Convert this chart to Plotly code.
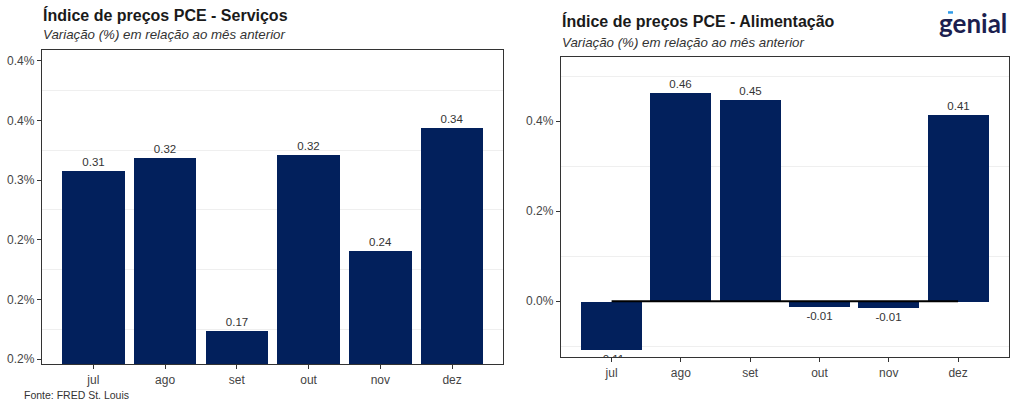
import plotly.graph_objects as go

# ---- data ----
months = ["jul", "ago", "set", "out", "nov", "dez"]
servicos = [0.308, 0.319, 0.174, 0.321, 0.241, 0.344]
alimentacao = [-0.107, 0.464, 0.448, -0.012, -0.014, 0.415]
zero_line = [0, 0, 0, 0, 0, 0]

left_tickvals = [0.15, 0.20, 0.25, 0.30, 0.35, 0.40]
left_ticktext = ["0.2%", "0.2%", "0.2%", "0.3%", "0.4%", "0.4%"]
right_tickvals = [0.0, 0.2, 0.4]
right_ticktext = ["0.0%", "0.2%", "0.4%"]

title_left = "Índice de preços PCE - Serviços"
title_right = "Índice de preços PCE - Alimentação"
subtitle = "Variação (%) em relação ao mês anterior"
source = "Fonte: FRED St. Louis"

NAVY = "#02205c"
FONT = "Liberation Sans, Arial, sans-serif"
W, H = 1024, 410


def px(x):
    return x / W


def py(y):
    return 1 - y / H


fig = go.Figure()

fig.add_trace(go.Bar(
    x=months, y=servicos, xaxis="x", yaxis="y",
    marker=dict(color=NAVY, line=dict(width=0)),
    width=0.87,
    text=[f"{v:.2f}" for v in servicos],
    textposition="outside", cliponaxis=True,
    textfont=dict(size=11.5, color="#333333", family=FONT),
    showlegend=False,
))

fig.add_trace(go.Bar(
    x=months, y=alimentacao, xaxis="x2", yaxis="y2",
    marker=dict(color=NAVY, line=dict(width=0)),
    width=0.88,
    text=[f"{v:.2f}" for v in alimentacao],
    textposition="outside", cliponaxis=True,
    textfont=dict(size=11.5, color="#333333", family=FONT),
    showlegend=False,
))

fig.add_trace(go.Scatter(
    x=months, y=zero_line, xaxis="x2", yaxis="y2",
    mode="lines", line=dict(color="black", width=2.2),
    showlegend=False, hoverinfo="skip",
))

axis_common = dict(
    showline=True, linecolor="#333333", linewidth=1.3, mirror=True,
    ticks="outside", ticklen=4, tickwidth=1.3, tickcolor="#333333",
    tickfont=dict(size=12, color="#444444", family=FONT),
    zeroline=False,
)

fig.update_layout(
    width=W, height=H,
    margin=dict(l=0, r=0, t=0, b=0),
    paper_bgcolor="white", plot_bgcolor="white",
    font=dict(family=FONT),
    bargap=0,
    xaxis=dict(domain=[px(42), px(503)], anchor="y", type="category",
               range=[-0.715, 5.71], showgrid=False, **axis_common),
    yaxis=dict(domain=[py(366), py(50)], anchor="x",
               range=[0.1458, 0.4092], tickmode="array",
               tickvals=left_tickvals, ticktext=left_ticktext,
               showgrid=False,
               minor=dict(tick0=0.025, dtick=0.05, showgrid=True,
                          gridcolor="#efefef", gridwidth=1, ticks=""),
               **axis_common),
    xaxis2=dict(domain=[px(561), px(1009)], anchor="y2", type="category",
                range=[-0.73, 5.735], showgrid=False, **axis_common),
    yaxis2=dict(domain=[py(359), py(57)], anchor="x2",
                range=[-0.1244, 0.543], tickmode="array",
                tickvals=right_tickvals, ticktext=right_ticktext,
                showgrid=False,
                minor=dict(tick0=0.1, dtick=0.2, showgrid=True,
                           gridcolor="#efefef", gridwidth=1, ticks=""),
                **axis_common),
)

ann = []
ann.append(dict(text=f"<b>{title_left}</b>", x=px(41), y=py(15), xref="paper", yref="paper",
                xanchor="left", yanchor="middle", showarrow=False,
                font=dict(size=16, color="#1a1a1a", family=FONT)))
ann.append(dict(text=f"<i>{subtitle}</i>", x=px(41), y=py(35), xref="paper", yref="paper",
                xanchor="left", yanchor="middle", showarrow=False,
                font=dict(size=13.3, color="#333333", family=FONT)))
ann.append(dict(text=f"<b>{title_right}</b>", x=px(560), y=py(21), xref="paper", yref="paper",
                xanchor="left", yanchor="middle", showarrow=False,
                font=dict(size=16, color="#1a1a1a", family=FONT)))
ann.append(dict(text=f"<i>{subtitle}</i>", x=px(560), y=py(43), xref="paper", yref="paper",
                xanchor="left", yanchor="middle", showarrow=False,
                font=dict(size=13.3, color="#333333", family=FONT)))
ann.append(dict(text=source, x=px(22), y=py(397), xref="paper", yref="paper",
                xanchor="left", yanchor="middle", showarrow=False,
                font=dict(size=10.5, color="#333333", family=FONT)))
ann.append(dict(text="<b>genial</b>", x=px(973), y=py(23), xref="paper", yref="paper",
                xanchor="center", yanchor="middle", showarrow=False,
                font=dict(size=26, color="#1c1f4f", family="Lato, sans-serif")))
fig.update_layout(annotations=ann)

fig.add_shape(type="line", xref="paper", yref="paper",
              x0=px(948), x1=px(953), y0=py(12.5), y1=py(12.5),
              line=dict(color="#2f9be8", width=2.5))

fig.write_html(
    "out.html",
    config={"displayModeBar": False},
    post_script="document.body.style.margin='0';document.body.style.padding='0';"
                "document.body.style.overflow='hidden';",
)
